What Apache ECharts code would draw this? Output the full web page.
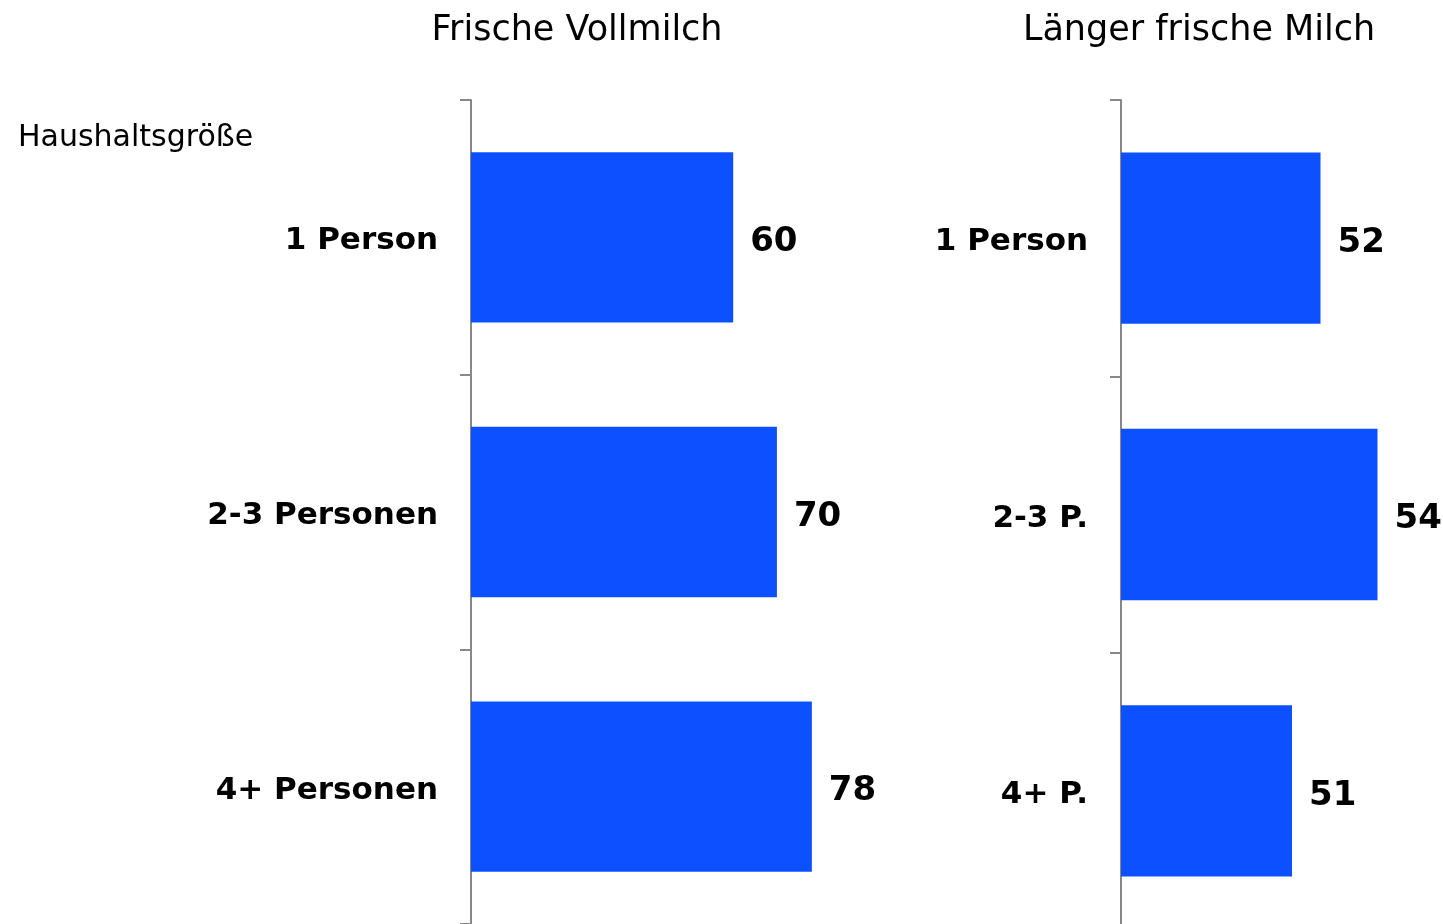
<!DOCTYPE html>
<html><head><meta charset="utf-8">
<script src="https://cdn.jsdelivr.net/npm/echarts@6/dist/echarts.min.js"></script>
<style>html,body{margin:0;padding:0;background:#fff}#c{width:1443px;height:924px}</style>
</head><body><div id="c"></div>
<script>
const titles = ["Frische Vollmilch", "Länger frische Milch"];
const rowHeader = "Haushaltsgröße";
const catsLeft = ["1 Person", "2-3 Personen", "4+ Personen"];
const catsRight = ["1 Person", "2-3 P.", "4+ P."];
const valsLeft = [60, 70, 78];
const valsRight = [52, 54, 51];

const FONT = "DejaVu Sans";
const BLUE = "#0D50FF";
const AXIS = "#888888";

const chart = echarts.init(document.getElementById('c'));
function yAx(idx, cats) {
  return {
    type: 'category', gridIndex: idx, data: cats, inverse: true,
    axisLine: {show: true, lineStyle: {color: AXIS, width: 2}},
    axisTick: {show: true, length: 11, lineStyle: {color: AXIS, width: 2}},
    axisLabel: {
      margin: 33, formatter: '{a|{value}}',
      rich: {a: {fontFamily: FONT, fontWeight: 'bold', fontSize: 31, color: '#000', padding: [8, 0, 0, 0]}}
    }
  };
}
function xAx(idx, min, max) {
  return {type: 'value', gridIndex: idx, min: min, max: max, show: false, splitLine: {show: false}};
}
function ser(idx, vals) {
  return {
    type: 'bar', xAxisIndex: idx, yAxisIndex: idx, data: vals, barCategoryGap: '38%',
    itemStyle: {color: BLUE},
    label: {show: true, position: 'right', distance: 17, offset: [0, 5], fontFamily: FONT, fontWeight: 'bold', fontSize: 34, color: '#000'},
    silent: true
  };
}
chart.setOption({
  animation: false,
  title: [
    {text: titles[0], left: 572, top: 8, textAlign: 'center', textStyle: {fontFamily: FONT, fontWeight: 'normal', fontSize: 35, color: '#000'}},
    {text: titles[1], left: 1194, top: 8, textAlign: 'center', textStyle: {fontFamily: FONT, fontWeight: 'normal', fontSize: 35, color: '#000'}},
    {text: rowHeader, left: 13, top: 118, textStyle: {fontFamily: FONT, fontWeight: 'normal', fontSize: 30, color: '#000'}}
  ],
  grid: [
    {left: 471, top: 100, width: 437, height: 824, outerBoundsMode: 'none'},
    {left: 1121, top: 100, width: 285, height: 829, outerBoundsMode: 'none'}
  ],
  xAxis: [xAx(0, 0, 100), xAx(1, 45, 55)],
  yAxis: [yAx(0, catsLeft), yAx(1, catsRight)],
  series: [ser(0, valsLeft), ser(1, valsRight)]
});
</script></body></html>
